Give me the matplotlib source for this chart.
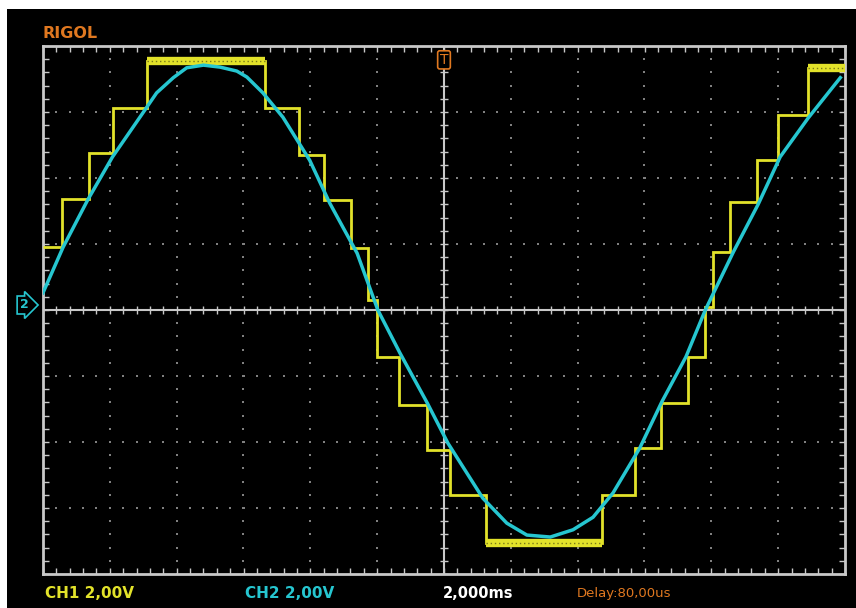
import numpy as np
import matplotlib.pyplot as plt
from matplotlib.patches import Rectangle

plt.switch_backend("Agg")

# --- data, in screen divisions (x: -6..6, y: -4..4) ---
# CH1: stepped (sample & hold) signal
ch1_edges = [-6.0, -5.72, -5.31, -4.96, -4.45, -2.68, -2.17, -1.80, -1.39, -1.14,
             -1.00, -0.67, -0.25, 0.09, 0.63, 2.37, 2.86, 3.25, 3.65, 3.91,
             4.03, 4.28, 4.69, 5.00, 5.45, 6.0]
ch1_levels = [0.95, 1.68, 2.38, 3.06, 3.77, 3.06, 2.35, 1.67, 0.94, 0.15,
              -0.71, -1.44, -2.12, -2.80, -3.53, -2.80, -2.09, -1.41, -0.71, 0.05,
              0.88, 1.64, 2.27, 2.95, 3.67]
# noisy flat tops of CH1
flat_x0 = [-4.45, 0.63, 5.45]
flat_x1 = [-2.68, 2.37, 6.0]
flat_y = [3.77, -3.53, 3.67]

# CH2: smooth sine
ch2_x = [-6.00, -5.70, -5.33, -4.96, -4.51, -4.30, -4.05, -3.85, -3.60, -3.35,
         -3.10, -2.95, -2.71, -2.41, -2.01, -1.71, -1.30, -0.99, -0.66, -0.25,
         0.06, 0.58, 0.94, 1.24, 1.59, 1.93, 2.23, 2.53, 2.93, 3.26,
         3.62, 3.91, 4.33, 4.70, 5.03, 5.45, 5.93]
ch2_y = [0.26, 0.95, 1.67, 2.32, 2.98, 3.29, 3.52, 3.67, 3.71, 3.68,
         3.62, 3.53, 3.29, 2.92, 2.27, 1.62, 0.86, 0.00, -0.65, -1.41,
         -2.02, -2.85, -3.23, -3.41, -3.44, -3.33, -3.14, -2.77, -2.09, -1.39,
         -0.71, 0.00, 0.88, 1.60, 2.32, 2.91, 3.52]

YELLOW = "#e2e22a"
CYAN = "#26c6d0"
ORANGE = "#e07820"
GRID = "#c8c8c8"

W, H = 856, 608
fig = plt.figure(figsize=(W / 100, H / 100), dpi=100, facecolor="white")
# black screen area (thin white margin top and left)
fig.add_artist(Rectangle((7 / W, 0), 1 - 7 / W, 1 - 9 / H, transform=fig.transFigure,
                         facecolor="black", edgecolor="none", zorder=-10))

ax = fig.add_axes([43 / W, 34 / H, 802 / W, 528 / H])
ax.set_facecolor("black")
ax.set_xlim(-6, 6)
ax.set_ylim(-4, 4)

# border with minor ticks
for sp in ax.spines.values():
    sp.set_color(GRID)
    sp.set_linewidth(2)
ax.set_xticks(np.arange(-6, 6.01, 0.2))
ax.set_yticks(np.arange(-4, 4.01, 0.2))
ax.tick_params(direction="in", length=4, width=1, color=GRID, top=True, right=True,
               labelbottom=False, labelleft=False)

# dotted graticule
dots = np.arange(-6, 6.01, 0.2)
for gy in [-3, -2, -1, 1, 2, 3]:
    ax.scatter(dots, np.full_like(dots, gy), s=2, marker="s", color="#808080", lw=0, zorder=1)
dots_v = np.arange(-4, 4.01, 0.2)
for gx in [-5, -4, -3, -2, -1, 1, 2, 3, 4, 5]:
    ax.scatter(np.full_like(dots_v, gx), dots_v, s=2, marker="s", color="#808080", lw=0, zorder=1)

# centre axes with ticks
ax.axhline(0, color=GRID, lw=1.5, zorder=1)
ax.axvline(0, color=GRID, lw=1.5, zorder=1)
ax.plot(dots, np.zeros_like(dots), ls="none", marker="|", ms=6, color=GRID, zorder=1)
ax.plot(np.zeros_like(dots_v), dots_v, ls="none", marker="_", ms=6, color=GRID, zorder=1)

# traces
ax.stairs(ch1_levels, ch1_edges, baseline=None, color=YELLOW, lw=2, zorder=3)
ax.hlines(flat_y, flat_x0, flat_x1, color=YELLOW, lw=6, zorder=3)
ax.hlines(flat_y, flat_x0, flat_x1, color="#7a7a18", lw=1, ls=(0, (1, 2)), zorder=3)
ax.plot(ch2_x, ch2_y, color=CYAN, lw=2.5, zorder=4)

# trigger marker
ax.text(0, 3.79, "T", color=ORANGE, fontsize=10, ha="center", va="center", zorder=5,
        bbox=dict(boxstyle="round,pad=0.15", fc="black", ec=ORANGE, lw=1.2))

# CH2 ground marker
fig.text(24 / W, 1 - 305 / H, "2", color=CYAN, fontsize=9, fontweight="bold",
         ha="center", va="center",
         bbox=dict(boxstyle="rarrow,pad=0.2", fc="black", ec=CYAN, lw=1.2))

# labels
fig.text(43 / W, 1 - 34 / H, "RIGOL", color=ORANGE, fontsize=11.5, fontweight="bold",
         ha="left", va="center")
fig.text(45 / W, 1 - 593 / H, "CH1 2,00V", color=YELLOW, fontsize=11, fontweight="bold",
         ha="left", va="center")
fig.text(245 / W, 1 - 593 / H, "CH2 2,00V", color=CYAN, fontsize=11, fontweight="bold",
         ha="left", va="center")
fig.text(443 / W, 1 - 593 / H, "2,000ms", color="white", fontsize=10.5, fontweight="bold",
         ha="left", va="center")
fig.text(577 / W, 1 - 593 / H, "Delay:80,00us", color=ORANGE, fontsize=9.5,
         ha="left", va="center")

fig.savefig("out.png", dpi=100, facecolor=fig.get_facecolor())
